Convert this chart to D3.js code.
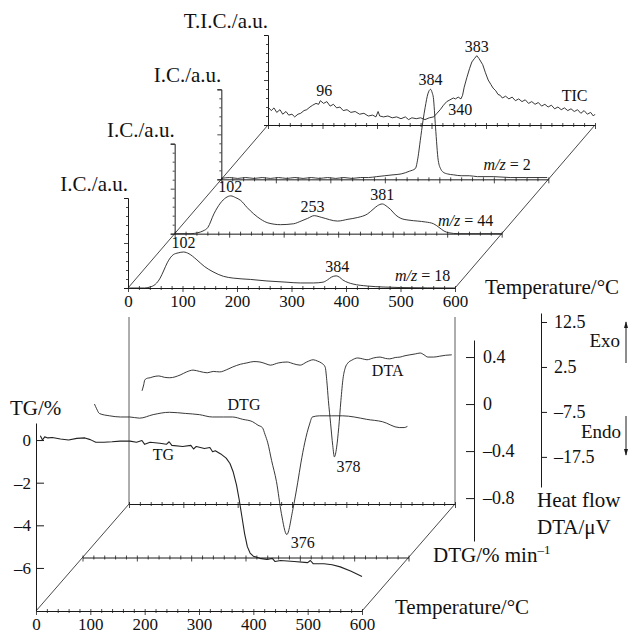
<!DOCTYPE html>
<html>
<head>
<meta charset="utf-8">
<script src="https://cdn.jsdelivr.net/npm/d3@7"></script>
<style>
  body { margin: 0; background: #fff; }
  svg { display: block; }
  text { font-family: "Liberation Serif", "Times New Roman", serif; fill: #111; }
</style>
</head>
<body>
<div id="chart"></div>
<script>
// ---------------- data ----------------
var tempTicks = [0, 100, 200, 300, 400, 500, 600];
var tempMinor = d3.range(0, 601, 20);

// ion currents, a.u. (100 = full axis height), [temperature °C, value]
var mz18 = [[0,0],[30,0],[40,1],[50,4],[59,11],[66,20],[72,28],[83,37],[92,39],[102,40],[112,38],[125,32],[140,24],[156,18],[175,13],[193,11],[225,9.5],[255,7.8],[290,6.5],[316,5.6],[340,5.6],[358,6.5],[366,9],[373,12],[382,13.5],[388,12],[394,9],[404,6],[413,4.4],[439,2.2],[468,1.1],[500,0.5],[600,0]];
var mz44 = [[0,0],[30,0],[42,1],[52,3],[61,7],[72,22],[84,34],[94,40],[103,42],[112,40],[121,37],[133,29],[145,22],[158,16],[171,12],[194,10],[218,11],[232,14],[244,17],[256,20],[270,18],[299,14],[318,16],[336,18],[354,22],[364,27],[372,31],[381,33],[390,30],[396,27],[405,21],[415,17],[430,15],[446,14],[460,13],[475,11],[485,7],[494,3],[503,1],[520,0],[600,0]];
var mz2 = [[0,1],[15,2],[30,1],[45,2],[60,1],[75,2],[90,1],[105,2],[120,1],[135,2],[150,1],[165,2],[180,1],[195,2],[210,1],[225,2],[240,1],[255,2],[270,2],[285,3],[300,4],[315,5],[330,6],[345,9],[356,12],[361,25],[365,43],[370,65],[374,80],[379,95],[384,100],[387,96],[389,91],[393,58],[398,21],[403,11],[407,8],[415,6],[426,5],[440,4],[455,4],[470,3],[500,3],[530,2],[560,2],[598,2]];
var tic = [[0,20],[6,16],[11,19],[16,14],[22,17],[27,12],[33,15],[38,11],[44,12],[49,9],[55,12],[60,13],[66,16],[71,17],[77,20],[82,22],[88,24],[93,23],[96,27],[102,24],[108,26],[114,21],[120,23],[126,19],[132,20],[138,16],[145,17],[152,14],[160,15],[168,12],[176,13],[184,10],[192,11],[198,9],[202,15],[205,10],[212,9],[220,10],[228,8],[236,9],[244,7],[252,9],[258,6],[264,8],[272,7],[280,8],[288,6],[296,8],[304,9],[310,13],[316,17],[322,22],[328,26],[334,28],[340,30],[344,29],[349,31],[354,29],[357,33],[360,42],[365,53],[370,63],[374,70],[379,74],[383,77],[387,74],[391,70],[394,67],[399,58],[404,50],[409,45],[413,41],[418,38],[422,34],[426,33],[430,30],[436,32],[442,29],[448,31],[454,27],[460,29],[466,26],[472,28],[478,24],[484,26],[490,23],[496,25],[502,21],[508,23],[514,20],[520,22],[526,18],[532,20],[538,17],[544,19],[550,16],[556,18],[562,15],[568,17],[574,13],[580,16],[586,12],[592,14],[597,10],[600,12]];

var mz18Peaks = [102, 384];
var mz44Peaks = [102, 253, 381];
var mz2Peaks = [384];
var ticPeaks = [96, 383, 340];

// thermal analysis, [temperature °C, value]
var tg = [[8,0.2],[12,0.0],[16,0.15],[22,0.1],[30,0.12],[45,0.05],[60,0.0],[75,0.08],[90,0.1],[100,0.02],[110,-0.1],[125,-0.1],[140,-0.08],[155,-0.05],[173,-0.05],[185,-0.1],[195,-0.02],[200,-0.2],[210,-0.1],[228,-0.15],[240,-0.2],[245,-0.08],[250,-0.25],[270,-0.3],[285,-0.25],[290,-0.42],[295,-0.3],[310,-0.4],[320,-0.35],[325,-0.55],[330,-0.5],[340,-0.65],[350,-0.85],[357,-1.1],[363,-1.5],[369,-2.1],[374,-2.8],[379,-3.6],[384,-4.4],[389,-5.0],[394,-5.3],[400,-5.45],[412,-5.55],[425,-5.6],[435,-5.55],[440,-5.7],[450,-5.65],[475,-5.7],[500,-5.75],[505,-5.65],[510,-5.8],[530,-5.8],[545,-5.85],[560,-5.95],[580,-6.15],[600,-6.4]];
var dtg = [[22,0.0],[26,-0.04],[31,-0.08],[50,-0.1],[70,-0.11],[87,-0.11],[105,-0.12],[130,-0.09],[160,-0.07],[190,-0.08],[215,-0.09],[239,-0.11],[260,-0.11],[276,-0.11],[295,-0.13],[313,-0.15],[323,-0.18],[331,-0.2],[336,-0.26],[341,-0.33],[348,-0.48],[357,-0.66],[366,-0.93],[376,-1.11],[387,-0.9],[396,-0.67],[402,-0.5],[409,-0.33],[418,-0.17],[423,-0.11],[436,-0.1],[458,-0.1],[479,-0.1],[500,-0.11],[523,-0.13],[552,-0.15],[583,-0.2],[592,-0.2],[598,-0.19]];
var dta = [[24,-2.8],[27,-1.5],[29,-0.4],[34,0.0],[39,0.1],[44,0.3],[55,0.5],[65,0.2],[75,0.1],[94,0.7],[106,1.4],[118,1.8],[130,1.5],[144,1.2],[155,1.5],[167,1.4],[180,1.9],[191,2.5],[205,3.1],[217,3.4],[230,3.7],[241,3.6],[252,3.2],[260,2.9],[275,3.4],[291,3.6],[303,3.2],[315,2.9],[327,3.6],[339,4.1],[347,3.8],[354,3.4],[361,2.5],[364,-0.5],[367,-5],[371,-10],[375,-15],[378,-17.5],[382,-15.5],[386,-11],[390,-5],[394,0],[398,2.3],[403,3.4],[410,4.0],[421,4.5],[430,4.3],[438,4.1],[450,4.5],[462,4.7],[472,4.4],[480,4.3],[490,4.6],[499,4.7],[508,5.0],[517,5.2],[527,5.4],[536,5.6],[543,5.2],[550,4.7],[561,4.7],[572,4.9],[583,5.1],[594,5.2]];
var dtgPeaks = [376];
var dtaPeaks = [378];

var tgTicks = [0, -2, -4, -6];
var dtgTicks = [0.4, 0, -0.4, -0.8];
var dtaTicks = [12.5, 2.5, -7.5, -17.5];

// ---------------- layout ----------------
var width = 628, height = 636;
var ink = "#1a1a1a";
var svg = d3.select("#chart").append("svg").attr("width", width).attr("height", height);

function fmt(d) { return d < 0 ? "\u2013" + Math.abs(d) : String(d); }

function nearest(series, t) {
  var near = series.filter(function (p) { return Math.abs(p[0] - t) <= 10; });
  if (!near.length) near = series;
  return d3.max(near, function (p) { return p[1]; });
}
function nearestMin(series, t) {
  var near = series.filter(function (p) { return Math.abs(p[0] - t) <= 10; });
  return d3.min(near, function (p) { return p[1]; });
}

// temperature axis on a panel baseline
function baseline(g, x, labelled, pad) {
  var ax = d3.axisBottom(x).tickValues(tempMinor).tickSize(4).tickSizeOuter(0).tickPadding(pad)
    .tickFormat(function (d) { return labelled && tempTicks.indexOf(d) >= 0 ? d : ""; });
  var a = g.append("g").call(ax);
  a.attr("font-family", null).attr("font-size", 17);
  a.select(".domain").attr("stroke", ink).attr("stroke-width", 1);
  a.selectAll(".tick line").attr("stroke", ink).attr("stroke-width", 0.8)
    .attr("y1", -2).attr("y2", function (d) { return d % 100 === 0 ? 4 : 2; });
  a.selectAll(".tick text").attr("fill", "#111");
  return a;
}

// ===== top block: evolved gas curves in depth =====
var topFront = [128, 288], topBack = [268, 125];
var xTop = d3.scaleLinear().domain([0, 600]).range([0, 327]);
var yIC = d3.scaleLinear().domain([0, 100]).range([0, -90]);
var depthTop = d3.scaleLinear().domain([0, 3]).range([0, 1]);

var topPanels = [
  { data: mz18, peaks: mz18Peaks, italic: "m/z", rest: " = 18", nameT: 490, nameV: 7, title: "I.C./a.u.", curve: d3.curveMonotoneX },
  { data: mz44, peaks: mz44Peaks, italic: "m/z", rest: " = 44", nameT: 483, nameV: 8, title: "I.C./a.u.", curve: d3.curveMonotoneX },
  { data: mz2, peaks: mz2Peaks, italic: "m/z", rest: " = 2", nameT: 481, nameV: 9, title: "I.C./a.u.", curve: d3.curveMonotoneX },
  { data: tic, peaks: ticPeaks, italic: "", rest: "TIC", nameT: 539, nameV: 24, title: "T.I.C./a.u.", curve: d3.curveLinear }
];
// label offsets for special peak annotations
var peakOffsets = { "3-340": [7, 17], "3-96": [4, -5] };

function topOrigin(i) {
  var f = depthTop(i);
  return [topFront[0] + f * (topBack[0] - topFront[0]), topFront[1] + f * (topBack[1] - topFront[1])];
}

// depth edges
svg.append("line").attr("x1", topFront[0]).attr("y1", topFront[1]).attr("x2", topBack[0]).attr("y2", topBack[1])
  .attr("stroke", ink).attr("stroke-width", 0.8);
svg.append("line").attr("x1", topFront[0] + xTop(600)).attr("y1", topFront[1]).attr("x2", topBack[0] + xTop(600)).attr("y2", topBack[1])
  .attr("stroke", ink).attr("stroke-width", 0.8);

topPanels.forEach(function (p, i) {
  var o = topOrigin(i);
  var g = svg.append("g").attr("transform", "translate(" + o[0] + "," + o[1] + ")");

  baseline(g, xTop, i === 0, 3);

  var ay = d3.axisLeft(yIC).tickValues(d3.range(0, 101, 10)).tickSizeOuter(0).tickSize(4).tickFormat("");
  var a = g.append("g").call(ay);
  a.select(".domain").attr("stroke", ink).attr("stroke-width", 1);
  a.selectAll(".tick line").attr("stroke", ink).attr("stroke-width", 0.8)
    .attr("x2", function (d) { return d % 50 === 0 ? -4 : -2; });

  g.append("text").attr("x", 0).attr("y", yIC(100) - 7).attr("text-anchor", "end")
    .attr("font-size", 21).text(p.title);

  var line = d3.line().x(function (d) { return xTop(d[0]); }).y(function (d) { return yIC(d[1]); }).curve(p.curve);
  g.append("path").datum(p.data).attr("d", line).attr("fill", "none")
    .attr("stroke", "#222").attr("stroke-width", 0.9).attr("stroke-linejoin", "round");

  p.peaks.forEach(function (t) {
    var off = peakOffsets[i + "-" + t] || [0, -4];
    var v = (i === 3 && t === 340) ? d3.least(p.data, function (d) { return Math.abs(d[0] - t); })[1] : nearest(p.data, t);
    g.append("text").attr("x", xTop(t) + off[0]).attr("y", yIC(v) + off[1])
      .attr("text-anchor", "middle").attr("font-size", 16).text(String(t));
  });

  var nm = g.append("text").attr("x", xTop(p.nameT)).attr("y", -p.nameV).attr("font-size", 16);
  if (p.italic) nm.append("tspan").attr("font-style", "italic").text(p.italic);
  nm.append("tspan").text(p.rest);
});

svg.append("text").attr("x", 485).attr("y", 294).attr("font-size", 21).text("Temperature/\u00B0C");

// ===== bottom block: TG / DTG / DTA in depth =====
var botFront = [36, 611], botBack = [129, 504];
var xBot = d3.scaleLinear().domain([0, 600]).range([0, 326]);
var depthBot = d3.scaleLinear().domain([0, 2]).range([0, 1]);
function botOrigin(i) {
  var f = depthBot(i);
  return [botFront[0] + f * (botBack[0] - botFront[0]), botFront[1] + f * (botBack[1] - botFront[1])];
}

svg.append("line").attr("x1", botFront[0]).attr("y1", botFront[1]).attr("x2", botBack[0]).attr("y2", botBack[1])
  .attr("stroke", ink).attr("stroke-width", 0.8);
svg.append("line").attr("x1", botFront[0] + xBot(600)).attr("y1", botFront[1]).attr("x2", botBack[0] + xBot(600)).attr("y2", botBack[1])
  .attr("stroke", ink).attr("stroke-width", 0.8);
// back wall edges, reaching up toward the gas block
[0, 600].forEach(function (t) {
  svg.append("line").attr("x1", botBack[0] + xBot(t)).attr("x2", botBack[0] + xBot(t))
    .attr("y1", 317).attr("y2", botBack[1]).attr("stroke", "#333").attr("stroke-width", 0.8);
});

[0, 1, 2].forEach(function (i) {
  var o = botOrigin(i);
  var g = svg.append("g").attr("transform", "translate(" + o[0] + "," + o[1] + ")");
  baseline(g, xBot, i === 0, 3);
});

// value scales (absolute page y)
var yTG = d3.scaleLinear().domain([-8.02, 0.8]).range([611, 423]);
var yDTG = d3.scaleLinear().domain([-1.165, 0.545]).range([541, 340]);
var yDTA = d3.scaleLinear().domain([-24.2, 14.5]).range([487, 313]);

function xAt(i) { var o = botOrigin(i); return function (t) { return o[0] + xBot(t); }; }

// TG axis (front)
var aTG = svg.append("g").attr("transform", "translate(" + botFront[0] + ",0)")
  .call(d3.axisLeft(yTG).tickValues(tgTicks).tickSize(-8).tickSizeOuter(0).tickPadding(5).tickFormat(fmt));
aTG.attr("font-family", null).attr("font-size", 17);
aTG.select(".domain").attr("stroke", ink).attr("stroke-width", 1);
aTG.selectAll(".tick line").attr("stroke", ink);
aTG.selectAll(".tick text").attr("fill", "#111");
svg.append("text").attr("x", 10).attr("y", 415).attr("font-size", 21).text("TG/%");

// DTG axis
var aDTG = svg.append("g").attr("transform", "translate(474,0)")
  .call(d3.axisRight(yDTG).tickValues(dtgTicks).tickSize(-8).tickSizeOuter(0).tickPadding(9).tickFormat(fmt));
aDTG.attr("font-family", null).attr("font-size", 18);
aDTG.select(".domain").attr("stroke", ink).attr("stroke-width", 1);
aDTG.selectAll(".tick line").attr("stroke", ink);
aDTG.selectAll(".tick text").attr("fill", "#111");
var dtgTitle = svg.append("text").attr("x", 433).attr("y", 562).attr("font-size", 21);
dtgTitle.append("tspan").text("DTG/% min");
dtgTitle.append("tspan").attr("font-size", 13).attr("dy", -8).text("\u20131");

// DTA axis
var aDTA = svg.append("g").attr("transform", "translate(541,0)")
  .call(d3.axisRight(yDTA).tickValues(dtaTicks).tickSize(6).tickSizeOuter(0).tickPadding(7).tickFormat(fmt));
aDTA.attr("font-family", null).attr("font-size", 18);
aDTA.select(".domain").attr("stroke", ink).attr("stroke-width", 1);
aDTA.selectAll(".tick line").attr("stroke", ink);
aDTA.selectAll(".tick text").attr("fill", "#111");
svg.append("text").attr("x", 537).attr("y", 507).attr("font-size", 21).text("Heat flow");
svg.append("text").attr("x", 537).attr("y", 534).attr("font-size", 21).text("DTA/\u03BCV");

// exo / endo arrows
var defs = svg.append("defs");
defs.append("marker").attr("id", "arr").attr("viewBox", "0 0 10 10").attr("refX", 9).attr("refY", 5)
  .attr("markerWidth", 7).attr("markerHeight", 9).attr("orient", "auto")
  .append("path").attr("d", "M0,2L10,5L0,8z").attr("fill", ink);
svg.append("line").attr("x1", 626).attr("y1", 363).attr("x2", 626).attr("y2", 322)
  .attr("stroke", ink).attr("stroke-width", 1).attr("marker-end", "url(#arr)");
svg.append("line").attr("x1", 626).attr("y1", 416).attr("x2", 626).attr("y2", 455)
  .attr("stroke", ink).attr("stroke-width", 1).attr("marker-end", "url(#arr)");
svg.append("text").attr("x", 620).attr("y", 347).attr("text-anchor", "end").attr("font-size", 19).text("Exo");
svg.append("text").attr("x", 621).attr("y", 438).attr("text-anchor", "end").attr("font-size", 19).text("Endo");

// curves
function drawCurve(data, xf, yf, curve, w) {
  svg.append("path").datum(data)
    .attr("d", d3.line().x(function (d) { return xf(d[0]); }).y(function (d) { return yf(d[1]); }).curve(curve))
    .attr("fill", "none").attr("stroke", "#222").attr("stroke-width", w).attr("stroke-linejoin", "round");
}
var xTGf = xAt(0), xDTGf = xAt(1), xDTAf = xAt(2);
drawCurve(tg, xTGf, yTG, d3.curveLinear, 1.1);
drawCurve(dtg, xDTGf, yDTG, d3.curveMonotoneX, 0.9);
drawCurve(dta, xDTAf, yDTA, d3.curveMonotoneX, 0.9);

// curve labels
function label(txt, x, y, anchor) {
  svg.append("text").attr("x", x).attr("y", y).attr("font-size", 16)
    .attr("text-anchor", anchor || "start").text(txt);
}
label("TG", xTGf(215), yTG(-0.94));
label("DTG", xDTGf(267), yDTG(-0.05));
label("DTA", xDTAf(447), yDTA(0.5));
dtgPeaks.forEach(function (t) { label(String(t), xDTGf(t) + 16, yDTG(nearestMin(dtg, t)) + 13, "middle"); });
dtaPeaks.forEach(function (t) { label(String(t), xDTAf(t) + 14, yDTA(nearestMin(dta, t)) + 15, "middle"); });

svg.append("text").attr("x", 395).attr("y", 614).attr("font-size", 21).text("Temperature/\u00B0C");
</script>
</body>
</html>
